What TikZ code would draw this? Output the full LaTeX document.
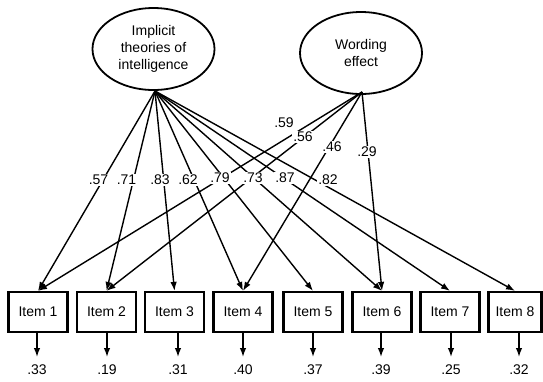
\documentclass[tikz,border=0pt]{standalone}
\usepackage{fontspec}
\setmainfont{Liberation Sans}
\usetikzlibrary{shapes.geometric,arrows.meta}
\begin{document}
\begin{tikzpicture}[x=1pt,y=-1pt,
 lat/.style={ellipse,draw,line width=1.8pt,minimum width=122pt,minimum height=82pt,align=center,font=\fontsize{14}{17}\selectfont,inner sep=0pt},
 item/.style={rectangle,draw,line width=2.2pt,minimum width=59pt,minimum height=40pt,font=\fontsize{14}{16}\selectfont,inner sep=0pt},
 load/.style={line width=1.4pt,-{Latex[length=9pt,width=6.5pt]}},
 coef/.style={fill=white,inner sep=1pt,font=\fontsize{14}{16}\selectfont},
 errlab/.style={font=\fontsize{14}{16}\selectfont,inner sep=0pt}]
\useasboundingbox (0,0) rectangle (543,381);
% latent variables
\node[lat] (imp) at (153.5,49) {Implicit\\theories of\\intelligence};
\node[lat] (wrd) at (361,53) {Wording\\effect};
\coordinate (ip) at (155,91);
\coordinate (wp) at (362,92);
% items
\node[item] (i1) at (38,312) {Item 1};
\node[item] (i2) at (106.5,312) {Item 2};
\node[item] (i3) at (174.5,312) {Item 3};
\node[item] (i4) at (243,312) {Item 4};
\node[item] (i5) at (313,312) {Item 5};
\node[item] (i6) at (382,312) {Item 6};
\node[item] (i7) at (450,312) {Item 7};
\node[item,minimum width=53pt] (i8) at (515,312) {Item 8};
% loadings from implicit theories
\draw[load] (ip) -- (i1.north);
\draw[load] (ip) -- (i2.north);
\draw[load] (ip) -- (i3.north);
\draw[load] (ip) -- (i4.north);
\draw[load] (ip) -- (i5.north);
\draw[load] (ip) -- (i6.north);
\draw[load] (ip) -- (i7.north);
\draw[load] (ip) -- (i8.north);
% loadings from wording effect
\draw[load] (wp) -- (i1.north);
\draw[load] (wp) -- (i2.north);
\draw[load] (wp) -- (i4.north);
\draw[load] (wp) -- (i6.north);
% coefficient labels
\node[coef] (c1) at (98.5,180) {.57};
\node[coef] (c2) at (126.5,180) {.71};
\node[coef] (c3) at (160,180) {.83};
\node[coef] (c4) at (188,180) {.62};
\node[coef] (c5) at (220,178) {.79};
\node[coef] (c6) at (253,178) {.73};
\node[coef] (c7) at (285,178) {.87};
\node[coef] (c8) at (328,180) {.82};
\node[coef] (w1) at (284,123) {.59};
\node[coef] (w2) at (303,137) {.56};
\node[coef] (w4) at (332,147) {.46};
\node[coef] (w6) at (367,152) {.29};
% residual arrows
\coordinate (e1) at (37,357);
\coordinate (e2) at (107,357);
\coordinate (e3) at (178,357);
\coordinate (e4) at (243,357);
\coordinate (e5) at (313,357);
\coordinate (e6) at (381,357);
\coordinate (e7) at (451,357);
\coordinate (e8) at (519,357);
\foreach \k in {1,...,8}{\draw[load] (i\k.south -| e\k) -- (e\k);}
\node[errlab] (r1) at (37,370) {.33};
\node[errlab] (r2) at (107,370) {.19};
\node[errlab] (r3) at (178,370) {.31};
\node[errlab] (r4) at (243,370) {.40};
\node[errlab] (r5) at (313,370) {.37};
\node[errlab] (r6) at (381,370) {.39};
\node[errlab] (r7) at (451,370) {.25};
\node[errlab] (r8) at (519,370) {.32};
\end{tikzpicture}
\end{document}
